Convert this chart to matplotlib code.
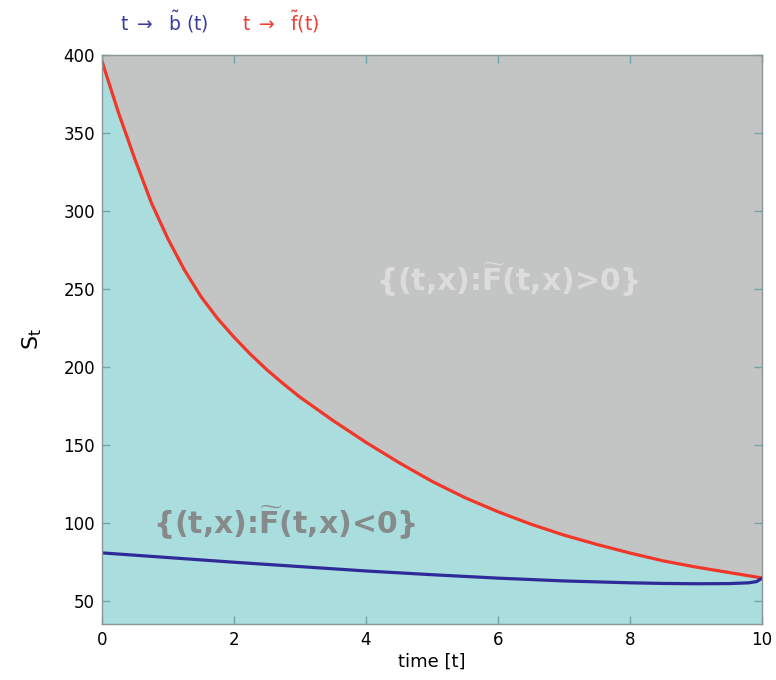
import matplotlib
matplotlib.use("Agg")
import matplotlib.pyplot as plt
import numpy as np

# boundary curves
t_f = [0, 0.25, 0.5, 0.75, 1.0, 1.25, 1.5, 1.75, 2.0, 2.25, 2.5, 2.75, 3.0, 3.5,
       4.0, 4.5, 5.0, 5.5, 6.0, 6.5, 7.0, 7.5, 8.0, 8.5, 9.0, 9.5, 10.0]
f_vals = [396, 363, 333, 305, 282, 262, 245, 231, 219, 208, 198, 189, 180.5, 165.5,
          151.5, 138.5, 126.5, 116, 107, 99, 92, 86, 80.5, 75.5, 71.5, 68, 64.5]

t_b = [0, 1, 2, 3, 4, 5, 6, 7, 8, 8.5, 9, 9.5, 9.8, 9.92, 10.0]
b_vals = [80.6, 77.6, 74.6, 71.8, 69.0, 66.6, 64.4, 62.6, 61.4, 61.0, 60.8, 60.9, 61.4, 62.2, 64.3]

xticks = [0, 2, 4, 6, 8, 10]
yticks = [50, 100, 150, 200, 250, 300, 350, 400]

cyan = "#aadddd"
grey = "#c3c4c4"
red = "#f0372a"
blue = "#2e2a98"

fig = plt.figure(figsize=(7.76, 6.8), dpi=100)
ax = fig.add_axes([0.1314, 0.0824, 0.8505, 0.8368])
ax.set_facecolor(grey)

ax.fill_between(t_f, 0, f_vals, color=cyan, lw=0)
ax.plot(t_f, f_vals, color=red, lw=2.3, solid_joinstyle="round")
ax.plot(t_b, b_vals, color=blue, lw=2.3, solid_joinstyle="round")

ax.set_xlim(0, 10)
ax.set_ylim(35, 400)
ax.set_xticks(xticks)
ax.set_yticks(yticks)
ax.tick_params(direction="in", length=6, width=1, color="#6fa6a6",
               top=True, right=True, labelsize=12, pad=5)
for s in ax.spines.values():
    s.set_color("#8c9696")
    s.set_linewidth(1)

ax.set_xlabel("time [t]", fontsize=13, labelpad=3)
ax.set_ylabel(r"S$_{\mathsf{t}}$", fontsize=16, labelpad=14)

ax.text(6.15, 256, r"{(t,x):$\widetilde{\mathbf{F}}$(t,x)>0}", color="#dcdcdc",
        fontsize=21.5, fontweight="bold", ha="center", va="center")
ax.text(2.77, 100, r"{(t,x):$\widetilde{\mathbf{F}}$(t,x)<0}", color="#878a8a",
        fontsize=21.5, fontweight="bold", ha="center", va="center")

fig.text(0.155, 0.968, r"t $\rightarrow$  $\tilde{\mathsf{b}}$ (t)", color="#3c3ca0",
         fontsize=13.5, va="center")
fig.text(0.312, 0.968, r"t $\rightarrow$  $\tilde{\mathsf{f}}$(t)", color="#f03c32",
         fontsize=13.5, va="center")

fig.savefig("out.png", dpi=100)
